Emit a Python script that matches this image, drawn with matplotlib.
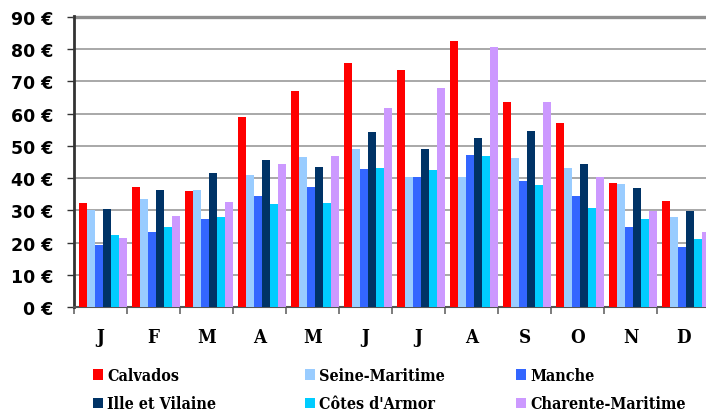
import matplotlib
matplotlib.use('Agg')
import matplotlib.pyplot as plt
import numpy as np
from matplotlib.font_manager import FontProperties

months = ['J', 'F', 'M', 'A', 'M', 'J', 'J', 'A', 'S', 'O', 'N', 'D']
series_names = ['Calvados', 'Seine-Maritime', 'Manche', 'Ille et Vilaine',
                "Côtes d'Armor", 'Charente-Maritime']
calvados = [32.2, 37.1, 35.9, 59.0, 67.1, 75.7, 73.6, 82.5, 63.7, 57.2, 38.4, 32.8]
seine_maritime = [30.0, 33.4, 36.2, 41.1, 46.4, 48.9, 40.5, 40.5, 46.1, 43.0, 38.1, 27.9]
manche = [19.2, 23.2, 27.2, 34.4, 37.1, 42.7, 40.5, 47.3, 39.0, 34.4, 24.8, 18.6]
ille_et_vilaine = [30.3, 36.2, 41.5, 45.5, 43.6, 54.4, 48.9, 52.5, 54.7, 44.5, 36.8, 29.7]
cotes_darmor = [22.3, 24.8, 27.9, 31.9, 32.2, 43.0, 42.4, 46.7, 37.8, 30.6, 27.2, 21.1]
charente_maritime = [21.4, 28.2, 32.5, 44.3, 46.7, 61.8, 68.0, 80.6, 63.7, 40.5, 29.8, 23.2]
yticks = [0, 10, 20, 30, 40, 50, 60, 70, 80, 90]
ytick_labels = [f'{v} €' for v in yticks]

series = [calvados, seine_maritime, manche, ille_et_vilaine, cotes_darmor, charente_maritime]
colors = ['#FF0000', '#99CCFF', '#3366FF', '#003366', '#00CCFF', '#CC99FF']

W, H = 706, 414
fig = plt.figure(figsize=(W / 100, H / 100), dpi=100)
left, right, top, bottom = 74, 710, 16.7, 308.3
ax = fig.add_axes([left / W, (H - bottom) / H, (right - left) / W, (bottom - top) / H])

slab = FontProperties(family='DejaVu Serif', weight='bold', stretch='condensed', size=11.5)
xfont = FontProperties(family='DejaVu Serif', weight='bold', stretch='condensed', size=13.5)
yfont = FontProperties(family='DejaVu Sans', weight='bold', size=12.5)

x = np.arange(len(months))
group = 53.0
bw = 8.0 / group
off0 = 5.0 / group
handles = []
for j, (vals, c, name) in enumerate(zip(series, colors, series_names)):
    b = ax.bar(x + off0 + j * bw, vals, width=bw, align='edge', color=c,
               label=name, zorder=3, linewidth=0)
    handles.append(b)

ax.set_xlim(0, 12)
ax.set_ylim(0, 90.3)
ax.set_yticks(yticks)
ax.set_yticklabels(ytick_labels, fontproperties=yfont)
ax.yaxis.grid(True, color='#999999', linewidth=1.2, zorder=0)
ax.set_axisbelow(True)
ax.axhline(90, color='#8f8f8f', linewidth=2.4, clip_on=False, zorder=1)

ax.set_xticks(x + 0.5)
ax.set_xticklabels(months, fontproperties=xfont)
ax.set_xticks(np.arange(0, 13), minor=True)
ax.tick_params(axis='x', which='major', length=0, pad=15)
ax.tick_params(axis='x', which='minor', length=5, width=1.2, color='#666666', direction='out')
ax.tick_params(axis='y', length=5, width=1, color='#333333', direction='out', pad=10)

ax.spines['right'].set_visible(False)
ax.spines['top'].set_visible(False)
ax.spines['left'].set_color('#333333')
ax.spines['left'].set_linewidth(2)
ax.spines['bottom'].set_color('#555555')
ax.spines['bottom'].set_linewidth(1.5)

col_x = [93, 305, 516]
for k in range(3):
    hs = [handles[k], handles[k + 3]]
    labs = [series_names[k], series_names[k + 3]]
    fig.legend(hs, labs, loc='upper left', bbox_to_anchor=(col_x[k] / W, (H - 368) / H),
               frameon=False, prop=slab, borderpad=0, borderaxespad=0,
               handlelength=0.62, handleheight=0.62, handletextpad=0.25,
               labelspacing=0.72)

fig.savefig('out.png', dpi=100)
